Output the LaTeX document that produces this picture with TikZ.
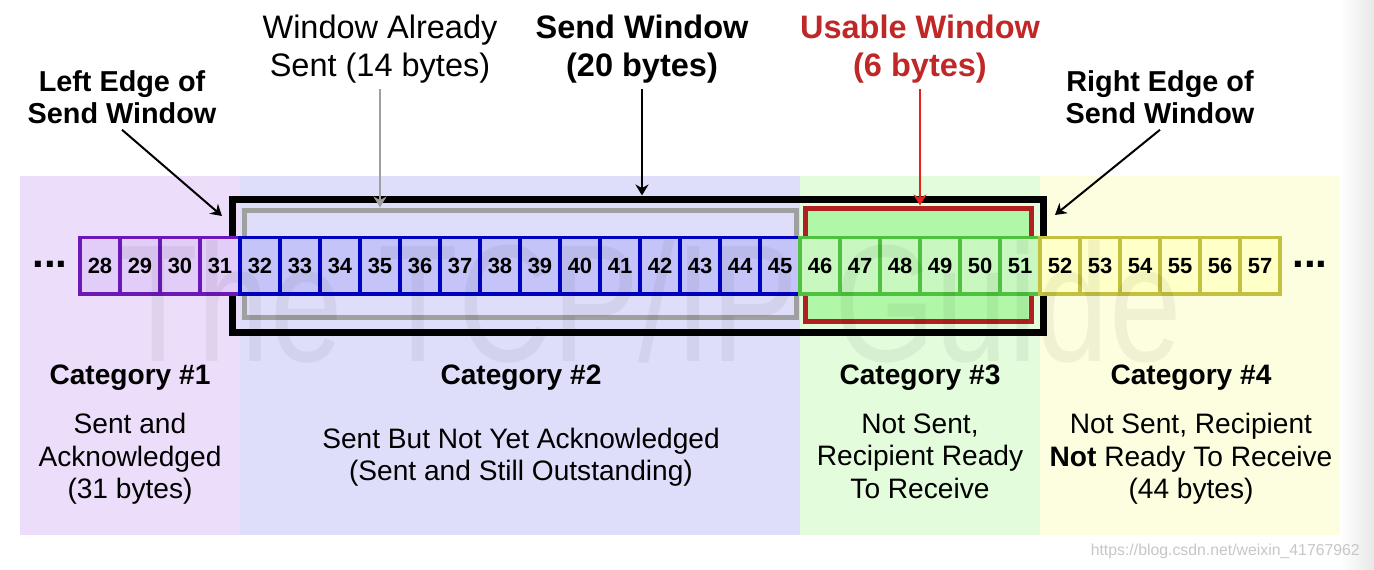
\documentclass[tikz,border=0pt]{standalone}
\usepackage{fontspec}
\setmainfont{Liberation Sans}
\usepackage{tikz}
\usetikzlibrary{arrows.meta}
\usetikzlibrary{calc}
\usetikzlibrary{positioning}

\definecolor{bgacked}{HTML}{ECDEFA}
\definecolor{bgsent}{HTML}{DEDEFA}
\definecolor{bgready}{HTML}{E2FCDC}
\definecolor{bgnotready}{HTML}{FDFDE0}
\definecolor{fillacked}{HTML}{E2CCF8}
\definecolor{fillsent}{HTML}{C4C4F8}
\definecolor{fillready}{HTML}{C8F8C0}
\definecolor{fillnotready}{HTML}{FFFFC8}
\definecolor{lineacked}{HTML}{6A18B8}
\definecolor{linesent}{HTML}{0000C0}
\definecolor{lineready}{HTML}{50C040}
\definecolor{linenotready}{HTML}{C4C040}
\definecolor{usablefill}{HTML}{B0F8A8}
\definecolor{usableline}{HTML}{B02020}
\definecolor{usabletext}{HTML}{C02828}
\definecolor{usablearrow}{HTML}{E8201C}
\definecolor{sentline}{HTML}{A0A0A0}

\begin{document}
\begin{tikzpicture}[
		x=0.02cm,y=-0.02cm,
		>={Stealth[length=0.22cm,width=0.26cm]},
		txt/.style={align=center,font=\fontsize{16}{18.5}\selectfont},
		cathead/.style={align=center,font=\bfseries\fontsize{16}{18.5}\selectfont},
		edgelbl/.style={align=center,font=\bfseries\fontsize{16.4}{18.2}\selectfont},
		toplbl/.style={align=center,font=\fontsize{18.5}{21.6}\selectfont},
		toplblb/.style={align=center,font=\bfseries\fontsize{18.5}{21.6}\selectfont},
		byte/.style={draw,rectangle,inner sep=0pt,minimum width=0.8cm,minimum height=1.14cm,line width=0.08cm,font=\bfseries\fontsize{12.5}{14}\selectfont},
		acked/.style={byte,draw=lineacked,fill=fillacked},
		sent/.style={byte,draw=linesent,fill=fillsent},
		ready/.style={byte,draw=lineready,fill=fillready},
		notready/.style={byte,draw=linenotready,fill=fillnotready},
		win/.style={draw,rectangle,inner sep=0pt},
		pointer/.style={->,line width=0.04cm},
		dots/.style={font=\bfseries\fontsize{24}{24}\selectfont,anchor=base}
	]
		\fill[white] (0,0) rectangle (1374,570);
		\useasboundingbox (0,0) rectangle (1374,570);
		\shade[left color=white,right color=black!9] (1340,0) rectangle (1374,570);

		% category backgrounds
		\fill[bgacked] (20,176) rectangle (240,535);
		\fill[bgsent] (240,176) rectangle (800,535);
		\fill[bgready] (800,176) rectangle (1040,535);
		\fill[bgnotready] (1040,176) rectangle (1340,535);

		% windows
		\node [win,line width=0.14cm,minimum width=16.24cm,minimum height=2.68cm] (sendwin) at (638,266) {};
		\node [win,draw=sentline,line width=0.1cm,minimum width=11.06cm,minimum height=2.16cm] (sentwin) at (520.5,264) {};
		\node [win,draw=usableline,fill=usablefill,line width=0.1cm,minimum width=4.54cm,minimum height=2.28cm] (usablewin) at (918.5,265) {};

		% bytes
		\foreach \n in {28,...,31}
			\node [acked] (b\n) at ({100+40*(\n-28)},266) {\n};
		\foreach \n in {32,...,45}
			\node [sent] (b\n) at ({100+40*(\n-28)},266) {\n};
		\foreach \n in {46,...,51}
			\node [ready] (b\n) at ({100+40*(\n-28)},266) {\n};
		\foreach \n in {52,...,57}
			\node [notready] (b\n) at ({100+40*(\n-28)},266) {\n};
		\node [dots] (dotsl) at (50,268) {...};
		\node [dots] (dotsr) at (1310,268) {...};

		% labels above
		\node [edgelbl] (leftlbl) at (122,97) {Left Edge of\\Send Window};
		\node [toplbl] (sentlbl) at (380,49) {Window Already\\Sent (14 bytes)};
		\node [toplblb] (sendlbl) at (642,49) {Send Window\\(20 bytes)};
		\node [toplblb,text=usabletext] (usablelbl) at (920,49) {Usable Window\\(6 bytes)};
		\node [edgelbl] (rightlbl) at (1160,97) {Right Edge of\\Send Window};

		\coordinate (leftpt) at (222,216);
		\coordinate (rightpt) at (1055,215);
		\draw [pointer] (leftlbl.south) -- (leftpt);
		\draw [pointer] (rightlbl.south) -- (rightpt);
		\draw [pointer,sentline] (sentlbl) -- (sentlbl |- sentwin.north);
		\draw [pointer] (sendlbl) -- (sendlbl |- sendwin.north);
		\draw [pointer,usablearrow] (usablelbl) -- (usablelbl |- usablewin.north);

		% categories
		\node [cathead] (cat1) at (130,378) {Category \#1};
		\node [cathead] (cat2) at (521,378) {Category \#2};
		\node [cathead] (cat3) at (920,378) {Category \#3};
		\node [cathead] (cat4) at (1191,378) {Category \#4};
		\node [txt] (desc1) at (130,459) {Sent and\\Acknowledged\\(31 bytes)};
		\node [txt] (desc2) at (521,457) {Sent But Not Yet Acknowledged\\(Sent and Still Outstanding)};
		\node [txt] (desc3) at (920,456) {Not Sent,\\Recipient Ready\\To Receive};
		\node [txt] (desc4) at (1191,459) {Not Sent, Recipient\\\textbf{Not} Ready To Receive\\(44 bytes)};

		% watermarks
		\node [text=black,opacity=0.05,font=\fontsize{95}{95}\selectfont,xscale=0.78] (wmark) at (650,302) {The TCP/IP Guide};
		\node [text=black!22,font=\fontsize{9}{10}\selectfont,anchor=east] (csdn) at (1366,551) {https://blog.csdn.net/weixin\_41767962};
	\end{tikzpicture}
\end{document}
